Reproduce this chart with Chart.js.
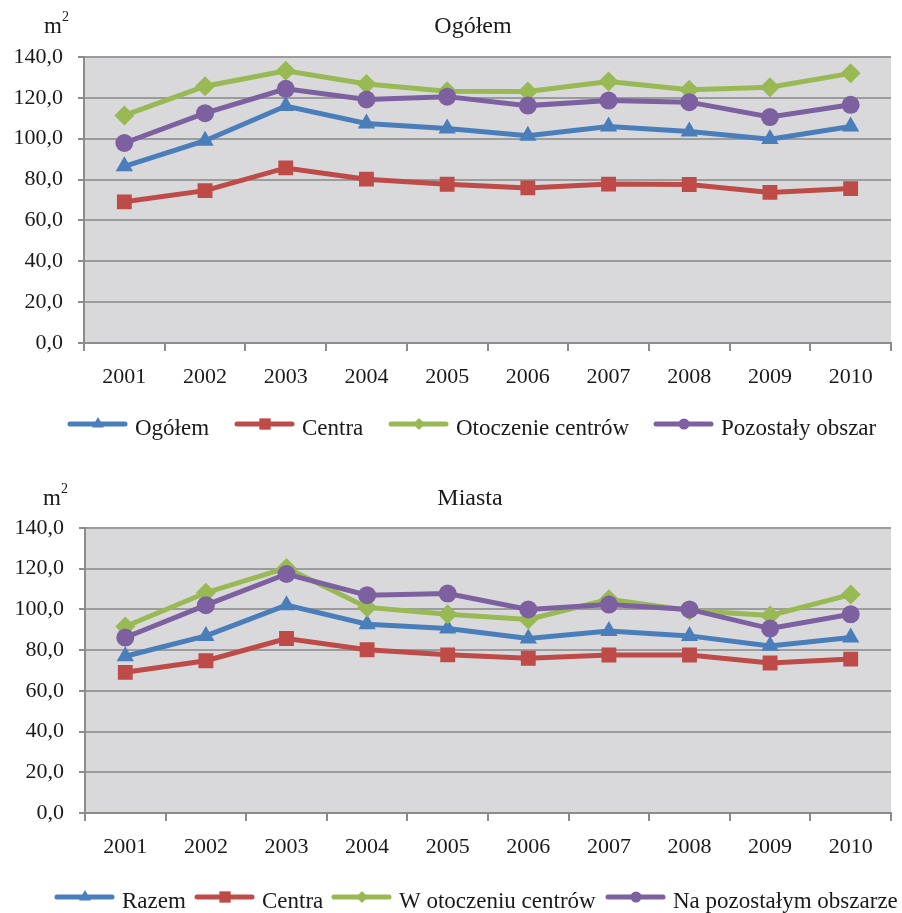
<!DOCTYPE html>
<html>
<head>
<meta charset="utf-8">
<script src="https://cdn.jsdelivr.net/npm/chart.js@4"></script>
<style>
  body { margin: 0; background: #fff; }
  .box { position: absolute; left: 0; width: 902px; }
  #top { top: 0; height: 455px; }
  #bottom { top: 455px; height: 458px; }
</style>
</head>
<body>
<div class="box" id="top"><canvas id="chart-ogolem" width="902" height="455"></canvas></div>
<div class="box" id="bottom"><canvas id="chart-miasta" width="902" height="458"></canvas></div>
<script>
// dane (m2)
var years = ["2001", "2002", "2003", "2004", "2005", "2006", "2007", "2008", "2009", "2010"];
var yTicks = [0, 20, 40, 60, 80, 100, 120, 140];

// wykres 1 - Ogółem
var ogolem = [86.5, 99, 116, 107.5, 105, 101.5, 106, 103.5, 99.8, 106];
var centra = [69.1, 74.6, 85.7, 80.2, 77.7, 75.9, 77.8, 77.6, 73.7, 75.6];
var otoczenie = [111.4, 125.7, 133.3, 126.8, 123.2, 123.1, 128, 124, 125.2, 132];
var pozostaly = [97.9, 112.5, 124.4, 119.2, 120.6, 116.2, 118.7, 117.9, 110.6, 116.6];

// wykres 2 - Miasta
var razem = [77, 87, 102.1, 92.7, 90.6, 85.7, 89.4, 87, 82.1, 86.2];
var centraMiasta = [69.1, 74.8, 85.7, 80.2, 77.7, 76, 77.6, 77.6, 73.7, 75.6];
var wOtoczeniu = [91.6, 108.2, 120.4, 101, 97.6, 95.1, 105, 99.5, 97, 107.3];
var naPozostalym = [86.2, 102.1, 117.4, 107, 107.8, 100, 102.4, 100, 90.6, 97.6];

var legendOgolem = ["Ogółem", "Centra", "Otoczenie centrów", "Pozostały obszar"];
var legendMiasta = ["Razem", "Centra", "W otoczeniu centrów", "Na pozostałym obszarze"];


// od tego miejsca tylko wyglad
var FONT = "'Liberation Serif', 'Times New Roman', serif";
var colors = ["#4a7ebb", "#be4b48", "#98b954", "#7d60a0"];
var styles = ["triangle", "rect", "rectRot", "circle"];
var radii = [10, 10.5, 10, 9];
var legendRadii = [7, 8, 6, 5.5];

function makeDatasets(series, labels) {
  var out = [];
  for (var i = 0; i < series.length; i++) {
    out.push({
      label: labels[i],
      data: series[i],
      borderColor: colors[i],
      backgroundColor: colors[i],
      borderWidth: 5,
      pointStyle: styles[i],
      pointRadius: radii[i],
      pointBorderWidth: 0,
      pointBackgroundColor: colors[i],
      order: series.length - i, // ostatnia seria na wierzchu
      tension: 0
    });
  }
  return out;
}

// szare tlo obszaru wykresu
var plotBg = {
  id: "plotBg",
  beforeDraw: function (chart) {
    var a = chart.chartArea;
    var ctx = chart.ctx;
    ctx.save();
    ctx.fillStyle = "#d9d9db";
    ctx.fillRect(a.left, a.top, a.right - a.left, a.bottom - a.top);
    ctx.restore();
  }
};

// tytul, jednostka i legenda rysowane recznie
var extras = {
  id: "extras",
  afterDraw: function (chart, args, opts) {
    var ctx = chart.ctx;
    ctx.save();
    ctx.fillStyle = "#1a1a1a";
    ctx.textBaseline = "alphabetic";
    ctx.font = "24px " + FONT;
    ctx.textAlign = "center";
    ctx.fillText(opts.title, opts.titleX, opts.titleY);
    ctx.textAlign = "left";
    ctx.font = "23px " + FONT;
    ctx.fillText("m", opts.unitX, opts.titleY);
    ctx.font = "14px " + FONT;
    ctx.fillText("2", opts.unitX + 18, opts.titleY - 12);

    var ds = chart.data.datasets;
    for (var i = 0; i < ds.length; i++) {
      var x0 = opts.legendX[i];
      var y = opts.legendY;
      ctx.strokeStyle = colors[i];
      ctx.lineWidth = 5;
      ctx.lineCap = "round";
      ctx.beginPath();
      ctx.moveTo(x0, y);
      ctx.lineTo(x0 + 55, y);
      ctx.stroke();
      ctx.fillStyle = colors[i];
      Chart.helpers.drawPoint(ctx, { pointStyle: styles[i], radius: legendRadii[i], rotation: 0, borderWidth: 0 }, x0 + 28, y);
      ctx.fillStyle = "#1a1a1a";
      ctx.font = "23px " + FONT;
      ctx.textBaseline = "middle";
      ctx.fillText(ds[i].label, x0 + 65, y + 5);
    }
    ctx.restore();
  }
};

function makeChart(id, series, labels, pad, yWidth, xHeight, extraOpts) {
  return new Chart(document.getElementById(id), {
    type: "line",
    data: { labels: years, datasets: makeDatasets(series, labels) },
    plugins: [plotBg, extras],
    options: {
      responsive: false,
      animation: false,
      layout: { padding: pad },
      plugins: {
        legend: { display: false },
        title: { display: false },
        tooltip: { enabled: false },
        extras: extraOpts
      },
      scales: {
        x: {
          offset: true,
          grid: { offset: true, drawOnChartArea: false, tickLength: 8, color: "#8c8c8c", lineWidth: 2 },
          border: { color: "#8c8c8c", width: 2 },
          ticks: { color: "#1a1a1a", font: { family: FONT, size: 22 }, padding: 13, maxRotation: 0 },
          afterFit: function (s) { s.height = xHeight; }
        },
        y: {
          min: 0,
          max: 140,
          afterBuildTicks: function (s) { s.ticks = yTicks.map(function (v) { return { value: v }; }); },
          grid: { color: "#9c9c9c", lineWidth: 2, tickLength: 6, tickColor: "#8c8c8c" },
          border: { color: "#8c8c8c", width: 2 },
          ticks: {
            color: "#1a1a1a",
            font: { family: FONT, size: 22 },
            padding: 15,
            callback: function (v) { return v.toFixed(1).replace(".", ","); }
          },
          afterFit: function (s) { s.width = yWidth; }
        }
      }
    }
  });
}

makeChart("chart-ogolem", [ogolem, centra, otoczenie, pozostaly], legendOgolem,
  { top: 57, right: 11, bottom: 72, left: 0 }, 84, 40,
  { title: "Ogółem", titleX: 473, titleY: 33, unitX: 44, legendX: [70, 237, 391, 656], legendY: 424 });

makeChart("chart-miasta", [razem, centraMiasta, wOtoczeniu, naPozostalym], legendMiasta,
  { top: 73, right: 11, bottom: 60, left: 0 }, 85, 40,
  { title: "Miasta", titleX: 470, titleY: 50, unitX: 43, legendX: [57, 197, 334, 608], legendY: 442 });
</script>
</body>
</html>
